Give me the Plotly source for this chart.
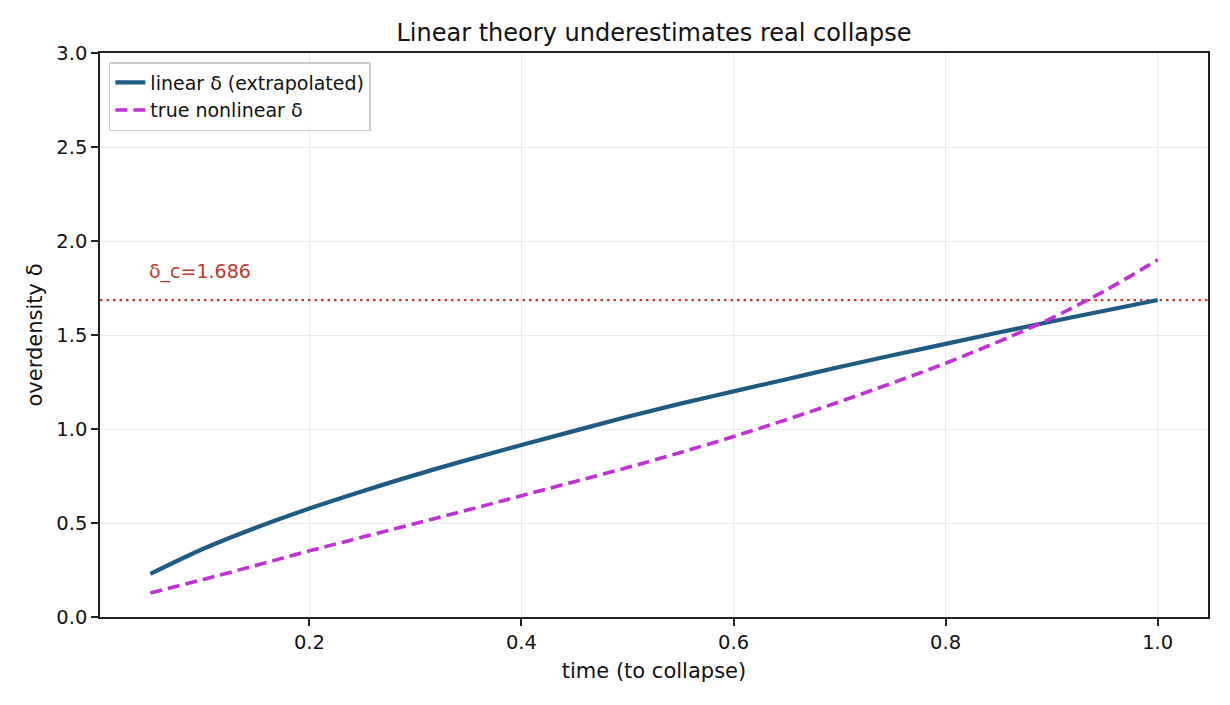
import plotly.graph_objects as go

# time (to collapse) sampled along the curves
t = [0.05, 0.10, 0.15, 0.20, 0.25, 0.30, 0.35, 0.40, 0.45, 0.50,
     0.55, 0.60, 0.65, 0.70, 0.75, 0.80, 0.85, 0.90, 0.95, 1.00]

# linear extrapolated overdensity
delta_linear = [0.229, 0.363, 0.476, 0.577, 0.669, 0.756, 0.837, 0.915, 0.990, 1.065,
                1.135, 1.200, 1.265, 1.330, 1.392, 1.453, 1.513, 1.572, 1.629, 1.686]

# true nonlinear overdensity
delta_true = [0.128, 0.200, 0.275, 0.352, 0.425, 0.497, 0.570, 0.645, 0.720, 0.795,
              0.875, 0.960, 1.050, 1.145, 1.245, 1.350, 1.465, 1.590, 1.735, 1.900]

delta_c = 1.686
x_range = [0.0025, 1.0475]
y_ticks = [0.0, 0.5, 1.0, 1.5, 2.0, 2.5, 3.0]

FONT = "DejaVu Sans"

fig = go.Figure()

fig.add_trace(go.Scatter(
    x=x_range, y=[delta_c, delta_c], mode="lines",
    line=dict(color="#c0392b", width=2.2, dash="2.5px,4px"),
    showlegend=False, hoverinfo="skip"))

fig.add_trace(go.Scatter(
    x=t, y=delta_linear, mode="lines", name="linear δ (extrapolated)",
    line=dict(color="#1f5a85", width=4.2, shape="spline")))

fig.add_trace(go.Scatter(
    x=t, y=delta_true, mode="lines", name="true nonlinear δ",
    line=dict(color="#c22fd8", width=3.6, dash="12px,6px", shape="spline")))

fig.add_annotation(
    x=t[0], y=delta_c + 0.15, text="δ_c=1.686", showarrow=False,
    xanchor="left", yanchor="middle", xshift=-3,
    font=dict(family=FONT, size=19, color="#c0392b"))

axis_common = dict(
    showline=True, linecolor="#222", linewidth=1.5, mirror=True,
    ticks="outside", ticklen=7, tickwidth=1.5, tickcolor="#222",
    showgrid=True, gridcolor="#ebebeb", gridwidth=1, zeroline=False,
    tickfont=dict(family=FONT, size=19.5, color="#111"))

fig.update_layout(
    width=1214, height=689,
    paper_bgcolor="white", plot_bgcolor="white",
    margin=dict(l=92, r=14, t=45, b=80),
    title=dict(text="Linear theory underestimates real collapse",
               xref="paper", x=0.5, xanchor="center", y=0.964, yanchor="middle",
               font=dict(family=FONT, size=24, color="#111")),
    xaxis=dict(range=x_range, tickvals=[0.2, 0.4, 0.6, 0.8, 1.0],
               tickformat=".1f",
               title=dict(text="time (to collapse)", font=dict(family=FONT, size=21, color="#111"),
                          standoff=10),
               **axis_common),
    yaxis=dict(range=[0, 3], tickvals=y_ticks, tickformat=".1f",
               title=dict(text="overdensity δ", font=dict(family=FONT, size=21, color="#111"),
                          standoff=8),
               **axis_common),
    legend=dict(x=0.008, y=0.984, xanchor="left", yanchor="top",
                bgcolor="rgba(255,255,255,0.85)", bordercolor="#cccccc", borderwidth=1.5,
                font=dict(family=FONT, size=19, color="#111"),
                tracegroupgap=2),
    showlegend=True,
)

fig.write_html("out.html")
